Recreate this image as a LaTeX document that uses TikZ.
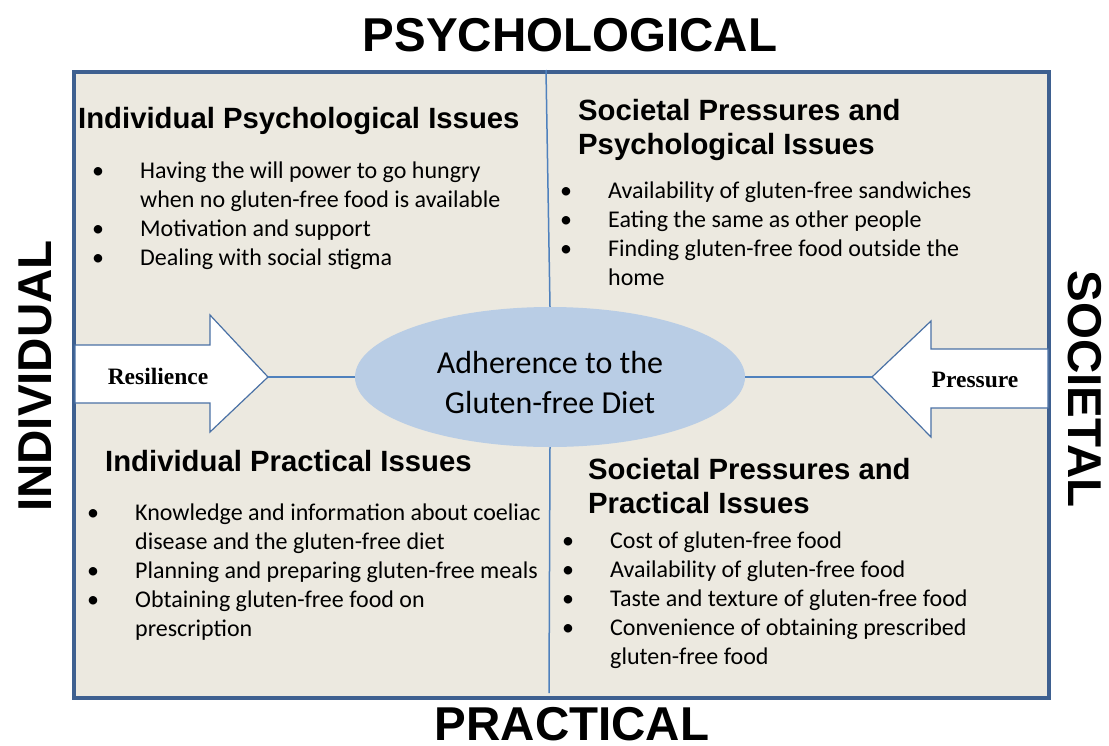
\documentclass[tikz,border=0pt]{standalone}
\usepackage{fontspec}
\setmainfont{Carlito}
\newfontfamily\headfont{Liberation Sans}
\newfontfamily\timesfont{Liberation Serif}
\usetikzlibrary{shapes.geometric,positioning}

\definecolor{bgbeige}{RGB}{236,233,224}
\definecolor{frameblue}{RGB}{62,96,144}
\definecolor{lineblue}{RGB}{79,129,189}
\definecolor{ellblue}{RGB}{185,205,229}
\definecolor{arrowblue}{RGB}{74,113,165}

\newcommand{\bul}{\makebox[45pt][l]{\hspace*{-3pt}\textbullet}}
\newcommand{\cont}{\hspace*{45pt}}

\begin{document}
\begin{tikzpicture}[x=1pt, y=-1pt,
  axislabel/.style={font=\headfont\bfseries\fontsize{47.5}{50}\selectfont, inner sep=0},
  heading/.style={font=\headfont\bfseries\fontsize{29.3}{34}\selectfont, align=left, inner sep=0, anchor=north west},
  itemlist/.style={font=\fontsize{24}{29}\selectfont, align=left, inner sep=0, anchor=north west},
  bigarrow/.style={draw=arrowblue, fill=white, line width=1.2pt, line join=miter},
  arrowtext/.style={font=\timesfont\bfseries\fontsize{23.5}{26}\selectfont, inner sep=0},
  divline/.style={draw=lineblue, line width=1.5pt}]
  \useasboundingbox (0,0) rectangle (1109,745);

  % frame
  \draw[draw=frameblue, fill=bgbeige, line width=4pt] (74,72) rectangle (1049,698);

  % axis labels
  \node (psy) [axislabel] at (570,35) {PSYCHOLOGICAL};
  \node (prac) [axislabel] at (572,724) {PRACTICAL};
  \node (indiv) [axislabel, rotate=90] at (35,376) {INDIVIDUAL};
  \node (soc) [axislabel, rotate=-90] at (1085,389) {SOCIETAL};

  % centre
  \node (adh) [ellipse, fill=ellblue, minimum width=390pt, minimum height=140pt, align=center,
    font=\fontsize{32}{40}\selectfont] at (550,377) {\rule{0pt}{33pt}Adherence to the\\Gluten-free Diet};

  % arrows
  \draw[bigarrow] (75,345) -- (210,345) -- (210,315) -- (268,377) -- (210,432) -- (210,403) -- (75,403) -- cycle;
  \coordinate (restip) at (268,377);
  \node (res) [arrowtext] at (158,376) {Resilience};
  \draw[bigarrow] (1048,349) -- (931,349) -- (931,321) -- (872,377) -- (931,437) -- (931,408) -- (1048,408) -- cycle;
  \coordinate (prestip) at (872,377);
  \node (pres) [arrowtext] at (975,380) {Pressure};

  % dividers
  \coordinate (dtop) at (546,70);
  \coordinate (dbot) at (549,693);
  \draw[divline] (dtop) -- (adh.north);
  \draw[divline] (adh.south) -- (dbot);
  \draw[divline] (restip) -- (adh.west);
  \draw[divline] (adh.east) -- (prestip);

  % quadrants
  \node (ipsyhead) [heading] at (78,107) {Individual Psychological Issues};
  \node (ipsylist) [itemlist] at (95,162) {\bul Having the will power to go hungry\\
    \cont when no gluten-free food is available\\
    \bul Motivation and support\\
    \bul Dealing with social stigma};

  \node (spsyhead) [heading] at (578,99) {Societal Pressures and\\Psychological Issues};
  \node (spsylist) [itemlist] at (563,182) {\bul Availability of gluten-free sandwiches\\
    \bul Eating the same as other people\\
    \bul Finding gluten-free food outside the\\
    \cont home};

  \node (ipracthead) [heading] at (105,450) {Individual Practical Issues};
  \node (ipractlist) [itemlist] at (90,504) {\bul Knowledge and information about coeliac\\
    \cont disease and the gluten-free diet\\
    \bul Planning and preparing gluten-free meals\\
    \bul Obtaining gluten-free food on\\
    \cont prescription};

  \node (spracthead) [heading] at (588,458) {Societal Pressures and\\Practical Issues};
  \node (spractlist) [itemlist] at (565,532) {\bul Cost of gluten-free food\\
    \bul Availability of gluten-free food\\
    \bul Taste and texture of gluten-free food\\
    \bul Convenience of obtaining prescribed\\
    \cont gluten-free food};
\end{tikzpicture}
\end{document}
